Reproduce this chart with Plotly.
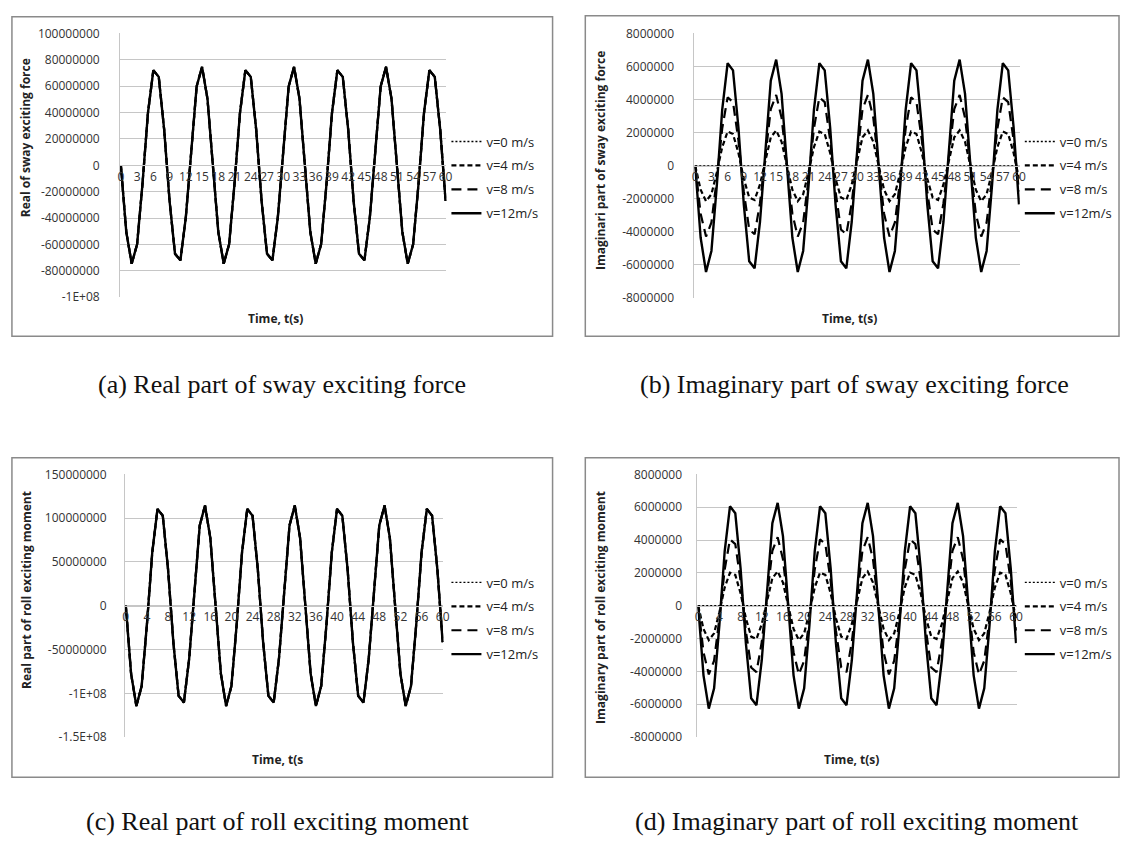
import plotly.graph_objects as go

W, H = 1126, 846

# ---------------- data (values in millions) ----------------
time_s = list(range(0, 61))

sway_real = [
    0, -50.5, -74.7, -59.9, -13.8, 39.5, 72.1, 67.1, 27.1, -27.1, -67.1, -72.1, -39.5, 13.8, 59.9, 74.7, 50.5,
    0, -50.5, -74.7, -59.9, -13.8, 39.5, 72.1, 67.1, 27.1, -27.1, -67.1, -72.1, -39.5, 13.8, 59.9, 74.7, 50.5,
    0, -50.5, -74.7, -59.9, -13.8, 39.5, 72.1, 67.1, 27.1, -27.1, -67.1, -72.1, -39.5, 13.8, 59.9, 74.7, 50.5,
    0, -50.5, -74.7, -59.9, -13.8, 39.5, 72.1, 67.1, 27.1, -27.1]

sway_imag_v0 = [0] * 61
sway_imag_v4 = [
    0, -1.45, -2.14, -1.72, -0.39, 1.13, 2.07, 1.92, 0.78, -0.78, -1.92, -2.07, -1.13, 0.39, 1.72, 2.14, 1.45,
    0, -1.45, -2.14, -1.72, -0.39, 1.13, 2.07, 1.92, 0.78, -0.78, -1.92, -2.07, -1.13, 0.39, 1.72, 2.14, 1.45,
    0, -1.45, -2.14, -1.72, -0.39, 1.13, 2.07, 1.92, 0.78, -0.78, -1.92, -2.07, -1.13, 0.39, 1.72, 2.14, 1.45,
    0, -1.45, -2.14, -1.72, -0.39, 1.13, 2.07, 1.92, 0.78, -0.78]
sway_imag_v8 = [
    0, -2.90, -4.28, -3.43, -0.79, 2.26, 4.14, 3.85, 1.55, -1.55, -3.85, -4.14, -2.26, 0.79, 3.43, 4.28, 2.90,
    0, -2.90, -4.28, -3.43, -0.79, 2.26, 4.14, 3.85, 1.55, -1.55, -3.85, -4.14, -2.26, 0.79, 3.43, 4.28, 2.90,
    0, -2.90, -4.28, -3.43, -0.79, 2.26, 4.14, 3.85, 1.55, -1.55, -3.85, -4.14, -2.26, 0.79, 3.43, 4.28, 2.90,
    0, -2.90, -4.28, -3.43, -0.79, 2.26, 4.14, 3.85, 1.55, -1.55]
sway_imag_v12 = [
    0, -4.35, -6.42, -5.15, -1.18, 3.40, 6.20, 5.77, 2.33, -2.33, -5.77, -6.20, -3.40, 1.18, 5.15, 6.42, 4.35,
    0, -4.35, -6.42, -5.15, -1.18, 3.40, 6.20, 5.77, 2.33, -2.33, -5.77, -6.20, -3.40, 1.18, 5.15, 6.42, 4.35,
    0, -4.35, -6.42, -5.15, -1.18, 3.40, 6.20, 5.77, 2.33, -2.33, -5.77, -6.20, -3.40, 1.18, 5.15, 6.42, 4.35,
    0, -4.35, -6.42, -5.15, -1.18, 3.40, 6.20, 5.77, 2.33, -2.33]

roll_real = [
    0, -77.5, -114.5, -91.8, -21.1, 60.5, 110.6, 102.9, 41.5, -41.5, -102.9, -110.6, -60.5, 21.1, 91.8, 114.5, 77.5,
    0, -77.5, -114.5, -91.8, -21.1, 60.5, 110.6, 102.9, 41.5, -41.5, -102.9, -110.6, -60.5, 21.1, 91.8, 114.5, 77.5,
    0, -77.5, -114.5, -91.8, -21.1, 60.5, 110.6, 102.9, 41.5, -41.5, -102.9, -110.6, -60.5, 21.1, 91.8, 114.5, 77.5,
    0, -77.5, -114.5, -91.8, -21.1, 60.5, 110.6, 102.9, 41.5, -41.5]

roll_imag_v0 = [0] * 61
roll_imag_v4 = [
    0, -1.41, -2.09, -1.68, -0.39, 1.11, 2.02, 1.88, 0.76, -0.76, -1.88, -2.02, -1.11, 0.39, 1.68, 2.09, 1.41,
    0, -1.41, -2.09, -1.68, -0.39, 1.11, 2.02, 1.88, 0.76, -0.76, -1.88, -2.02, -1.11, 0.39, 1.68, 2.09, 1.41,
    0, -1.41, -2.09, -1.68, -0.39, 1.11, 2.02, 1.88, 0.76, -0.76, -1.88, -2.02, -1.11, 0.39, 1.68, 2.09, 1.41,
    0, -1.41, -2.09, -1.68, -0.39, 1.11, 2.02, 1.88, 0.76, -0.76]
roll_imag_v8 = [
    0, -2.83, -4.18, -3.35, -0.77, 2.21, 4.04, 3.76, 1.52, -1.52, -3.76, -4.04, -2.21, 0.77, 3.35, 4.18, 2.83,
    0, -2.83, -4.18, -3.35, -0.77, 2.21, 4.04, 3.76, 1.52, -1.52, -3.76, -4.04, -2.21, 0.77, 3.35, 4.18, 2.83,
    0, -2.83, -4.18, -3.35, -0.77, 2.21, 4.04, 3.76, 1.52, -1.52, -3.76, -4.04, -2.21, 0.77, 3.35, 4.18, 2.83,
    0, -2.83, -4.18, -3.35, -0.77, 2.21, 4.04, 3.76, 1.52, -1.52]
roll_imag_v12 = [
    0, -4.24, -6.27, -5.03, -1.16, 3.32, 6.06, 5.64, 2.28, -2.28, -5.64, -6.06, -3.32, 1.16, 5.03, 6.27, 4.24,
    0, -4.24, -6.27, -5.03, -1.16, 3.32, 6.06, 5.64, 2.28, -2.28, -5.64, -6.06, -3.32, 1.16, 5.03, 6.27, 4.24,
    0, -4.24, -6.27, -5.03, -1.16, 3.32, 6.06, 5.64, 2.28, -2.28, -5.64, -6.06, -3.32, 1.16, 5.03, 6.27, 4.24,
    0, -4.24, -6.27, -5.03, -1.16, 3.32, 6.06, 5.64, 2.28, -2.28]

UNIT = 1e6  # values above are in millions

speeds = ["v=0 m/s", "v=4 m/s", "v=8 m/s", "v=12m/s"]

xticks_sway = list(range(0, 61, 3))
xticks_roll = list(range(0, 61, 4))

yticks_sway_real = [100000000, 80000000, 60000000, 40000000, 20000000, 0, -20000000, -40000000, -60000000, -80000000, -100000000]
ylabels_sway_real = ["100000000", "80000000", "60000000", "40000000", "20000000", "0", "-20000000", "-40000000", "-60000000", "-80000000", "-1E+08"]
yticks_imag = [8000000, 6000000, 4000000, 2000000, 0, -2000000, -4000000, -6000000, -8000000]
ylabels_imag = ["8000000", "6000000", "4000000", "2000000", "0", "-2000000", "-4000000", "-6000000", "-8000000"]
yticks_roll_real = [150000000, 100000000, 50000000, 0, -50000000, -100000000, -150000000]
ylabels_roll_real = ["150000000", "100000000", "50000000", "0", "-50000000", "-1E+08", "-1.5E+08"]

panels = [
    dict(series=[sway_real, sway_real, sway_real, sway_real],
         xt=xticks_sway, yt=yticks_sway_real, yl=ylabels_sway_real, yr=[-1e8, 1e8],
         ytitle="Real of sway exciting force", xtitle="Time, t(s)",
         caption="(a) Real part of sway exciting force",
         px=(118, 447), py=(25, 294), box=(9, 8, 554, 334),
         ytitle_pos=(23, 131), xtitle_pos=(275, 316), leg=(447, 172), cap=(281, 383), stand=17),
    dict(series=[sway_imag_v0, sway_imag_v4, sway_imag_v8, sway_imag_v12],
         xt=xticks_sway, yt=yticks_imag, yl=ylabels_imag, yr=[-8e6, 8e6],
         ytitle="Imaginari part of sway exciting force", xtitle="Time, t(s)",
         caption="(b) Imaginary part of sway exciting force",
         px=(697, 1025), py=(25, 295), box=(587, 7, 1125, 334),
         ytitle_pos=(603, 155), xtitle_pos=(853, 316), leg=(1025, 172), cap=(858, 383), stand=17),
    dict(series=[roll_real, roll_real, roll_real, roll_real],
         xt=xticks_roll, yt=yticks_roll_real, yl=ylabels_roll_real, yr=[-1.5e8, 1.5e8],
         ytitle="Real part of roll exciting moment", xtitle="Time, t(s",
         caption="(c) Real part of roll exciting moment",
         px=(123, 444), py=(475, 743), box=(9, 458, 554, 784),
         ytitle_pos=(23, 593), xtitle_pos=(277, 766), leg=(447, 622), cap=(277, 829), stand=15),
    dict(series=[roll_imag_v0, roll_imag_v4, roll_imag_v8, roll_imag_v12],
         xt=xticks_roll, yt=yticks_imag, yl=ylabels_imag, yr=[-8e6, 8e6],
         ytitle="Imaginary part of roll exciting moment", xtitle="Time, t(s)",
         caption="(d) Imaginary part of roll exciting moment",
         px=(700, 1022), py=(475, 743), box=(587, 458, 1125, 784),
         ytitle_pos=(603, 611), xtitle_pos=(855, 766), leg=(1025, 622), cap=(861, 829), stand=12),
]

line_styles = [
    dict(width=1.3, dash="2px,2px"),
    dict(width=2.2, dash="5px,3px"),
    dict(width=2.2, dash="10px,6px"),
    dict(width=2.4, dash="solid"),
]

FONT = "Open Sans"
GRID = "#c6c6c6"

fig = go.Figure()
layout = dict(width=W, height=H, margin=dict(l=0, r=0, t=0, b=0),
              paper_bgcolor="white", plot_bgcolor="white", showlegend=True,
              font=dict(family=FONT, size=12, color="#222"))
shapes, annotations = [], []

def fx(p):
    return p / W

def fy(p):
    return 1 - p / H

for i, P in enumerate(panels):
    n = i + 1
    xa = "x" if n == 1 else f"x{n}"
    ya = "y" if n == 1 else f"y{n}"
    lg = "legend" if n == 1 else f"legend{n}"
    for j, (vals, name) in enumerate(zip(P["series"], speeds)):
        fig.add_trace(go.Scatter(
            x=time_s, y=[v * UNIT for v in vals], mode="lines", name=name,
            line=dict(color="black", **line_styles[j]),
            xaxis=xa, yaxis=ya, legend=lg, legendgroup=f"p{n}s{j}",
            hoverinfo="skip"))
    ydom = [fy(P["py"][1]), fy(P["py"][0])]
    layout["xaxis" if n == 1 else f"xaxis{n}"] = dict(
        domain=[fx(P["px"][0]), fx(P["px"][1])], range=[-0.15, 60.15],
        anchor="free", position=(ydom[0] + ydom[1]) / 2,
        tickmode="array", tickvals=P["xt"], ticktext=[str(t) for t in P["xt"]],
        tickangle=0, showgrid=False, zeroline=False, showline=True,
        linecolor=GRID, linewidth=1, ticks="", tickfont=dict(size=12, color="#333"))
    layout["yaxis" if n == 1 else f"yaxis{n}"] = dict(
        domain=ydom, range=P["yr"], anchor=xa,
        tickmode="array", tickvals=P["yt"], ticktext=P["yl"],
        showgrid=True, gridcolor=GRID, gridwidth=1, zeroline=False,
        showline=True, linecolor=GRID, linewidth=1, ticks="",
        ticklabelstandoff=P["stand"], tickfont=dict(size=12, color="#333"))
    layout[lg] = dict(x=fx(P["leg"][0]), y=fy(P["leg"][1]), xanchor="left", yanchor="middle",
                      bgcolor="rgba(0,0,0,0)", font=dict(size=13, color="#222", family=FONT),
                      traceorder="grouped", tracegroupgap=4, itemwidth=30)
    x0, y0, x1, y1 = P["box"]
    shapes.append(dict(type="rect", xref="paper", yref="paper",
                       x0=fx(x0), x1=fx(x1), y0=fy(y1), y1=fy(y0),
                       line=dict(color="#8a8a8a", width=1.5), fillcolor="rgba(0,0,0,0)", layer="below"))
    annotations.append(dict(text=f"<b>{P['ytitle']}</b>", xref="paper", yref="paper",
                            x=fx(P["ytitle_pos"][0]), y=fy(P["ytitle_pos"][1]), textangle=-90,
                            showarrow=False, font=dict(size=12, color="#222", family=FONT),
                            xanchor="center", yanchor="middle"))
    annotations.append(dict(text=f"<b>{P['xtitle']}</b>", xref="paper", yref="paper",
                            x=fx(P["xtitle_pos"][0]), y=fy(P["xtitle_pos"][1]),
                            showarrow=False, font=dict(size=12, color="#222", family=FONT),
                            xanchor="center", yanchor="middle"))
    annotations.append(dict(text=P["caption"], xref="paper", yref="paper",
                            x=fx(P["cap"][0]), y=fy(P["cap"][1]),
                            showarrow=False, font=dict(size=26, color="#111", family="Liberation Serif"),
                            xanchor="center", yanchor="middle"))

layout["shapes"] = shapes
layout["annotations"] = annotations
fig.update_layout(**layout)
fig.write_html("out.html", config={"displayModeBar": False},
               post_script="document.body.style.margin='0px';")
